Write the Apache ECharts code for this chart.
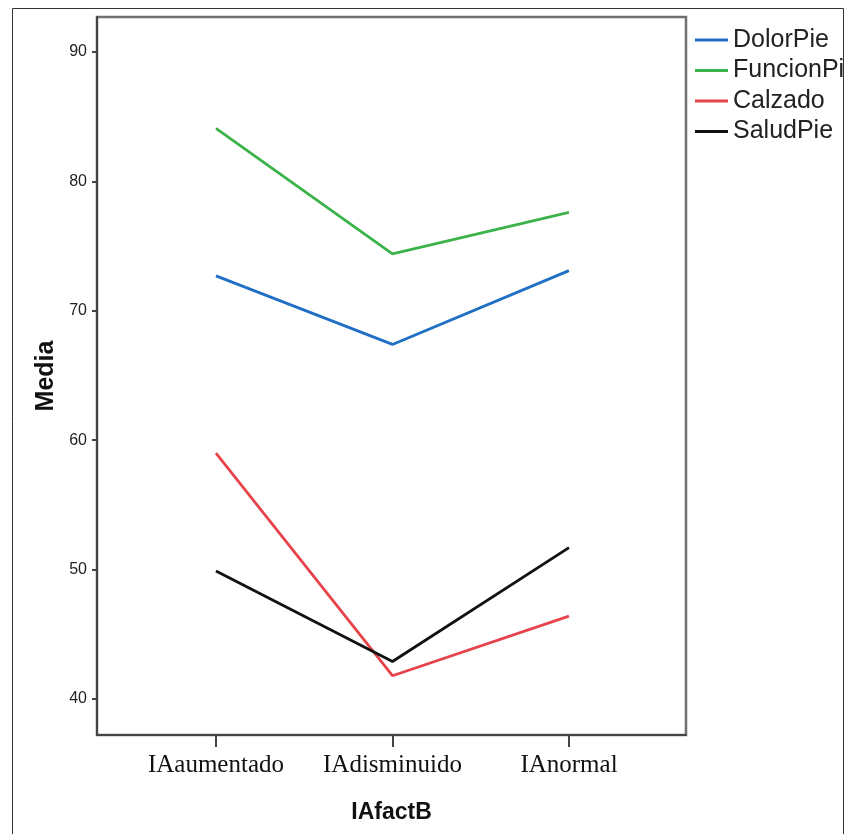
<!DOCTYPE html>
<html>
<head>
<meta charset="utf-8">
<script src="https://cdn.jsdelivr.net/npm/echarts@6/dist/echarts.min.js"></script>
<style>
html,body{margin:0;padding:0;background:#fff;}
#chart{width:845px;height:834px;}
</style>
</head>
<body>
<div id="chart"></div>
<script>
const categories = ['IAaumentado', 'IAdisminuido', 'IAnormal'];
const seriesNames = ['DolorPie', 'FuncionPie', 'Calzado', 'SaludPie'];
const dolorPie = [72.7, 67.4, 73.1];
const funcionPie = [84.1, 74.4, 77.6];
const calzado = [59.0, 41.8, 46.4];
const saludPie = [49.9, 42.9, 51.7];
const yTicks = [40, 50, 60, 70, 80, 90];
const colors = ['#1f6fc4', '#3cb34a', '#e6434b', '#111111'];

const values = [dolorPie, funcionPie, calzado, saludPie];
const catIdx = categories.map((c, i) => i);

const chart = echarts.init(document.getElementById('chart'));
const sans = '"Liberation Sans", Arial, sans-serif';

chart.setOption({
  animation: false,
  backgroundColor: '#fff',
  graphic: [{
    type: 'rect',
    shape: { x: 12.5, y: 8.5, width: 831, height: 900 },
    style: { fill: 'none', stroke: '#333', lineWidth: 1 },
    silent: true,
    z: -10
  }],
  grid: {
    left: 97, right: 159, top: 17, bottom: 99,
    show: true, borderColor: '#707070', borderWidth: 2.5, backgroundColor: '#fff'
  },
  legend: {
    orient: 'vertical',
    left: 690, top: 20,
    itemWidth: 33, itemHeight: 3,
    itemGap: 0.5,
    icon: 'rect',
    textStyle: { fontFamily: sans, fontSize: 25, color: '#222', lineHeight: 22, padding: [8, 0, 0, 0] },
    data: seriesNames
  },
  xAxis: {
    type: 'value',
    min: -0.674, max: 2.663,
    name: 'IAfactB',
    nameLocation: 'middle',
    nameGap: 66,
    nameTextStyle: { fontFamily: sans, fontWeight: 'bold', fontSize: 23, color: '#111' },
    axisLine: { show: true, onZero: false, lineStyle: { color: '#444', width: 2 } },
    axisTick: { show: true, customValues: catIdx, length: 12, lineStyle: { color: '#444', width: 2 } },
    axisLabel: {
      customValues: catIdx,
      formatter: v => categories[Math.round(v)],
      fontFamily: '"Liberation Serif", "Times New Roman", serif',
      fontSize: 25, color: '#111', margin: 18
    },
    splitLine: { show: false }
  },
  yAxis: {
    type: 'value',
    min: 37.22, max: 92.7,
    name: 'Media',
    nameLocation: 'middle',
    nameGap: 37,
    nameTextStyle: { fontFamily: sans, fontWeight: 'bold', fontSize: 25, color: '#111' },
    axisLine: { show: true, onZero: false, lineStyle: { color: '#444', width: 2 } },
    axisTick: { show: true, customValues: yTicks, length: 5, lineStyle: { color: '#444', width: 2 } },
    axisLabel: {
      customValues: yTicks,
      fontFamily: sans, fontSize: 16, color: '#222', margin: 10
    },
    splitLine: { show: false }
  },
  series: seriesNames.map((name, s) => ({
    name: name,
    type: 'line',
    symbol: 'none',
    color: colors[s],
    lineStyle: { width: 2.8, color: colors[s] },
    data: values[s].map((v, i) => [catIdx[i], v])
  }))
});
</script>
</body>
</html>
